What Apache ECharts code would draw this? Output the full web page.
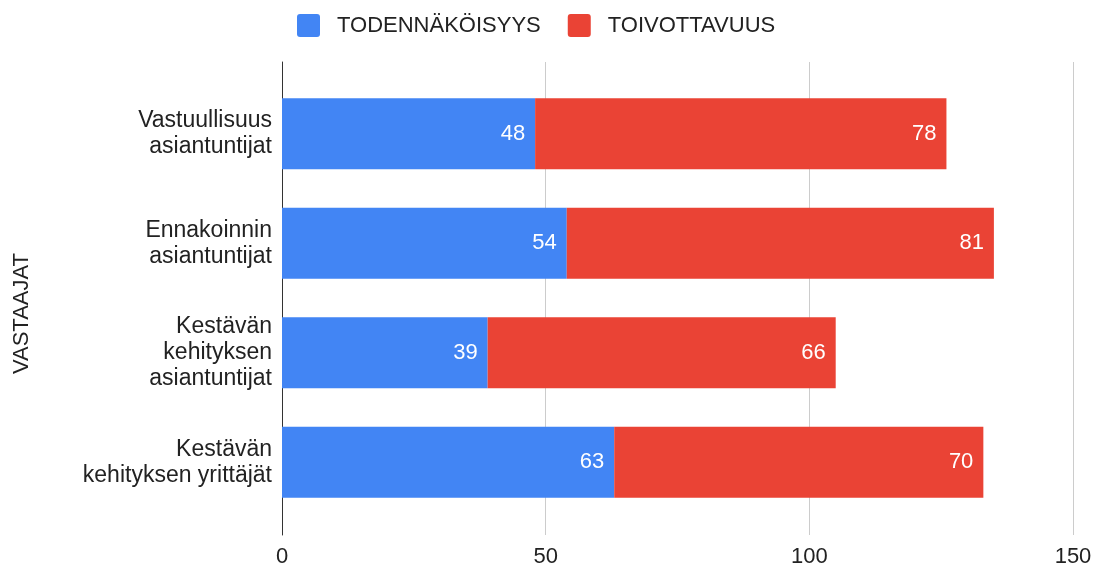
<!DOCTYPE html>
<html><head><meta charset="utf-8">
<script src="https://cdn.jsdelivr.net/npm/echarts@6/dist/echarts.min.js"></script>
<style>html,body{margin:0;padding:0;background:#fff}#c{width:1101px;height:569px}</style>
</head><body><div id="c"></div>
<script>
const categories = ["Vastuullisuus\nasiantuntijat", "Ennakoinnin\nasiantuntijat", "Kestävän\nkehityksen\nasiantuntijat", "Kestävän\nkehityksen yrittäjät"];
const todennakoisyys = [48, 54, 39, 63];
const toivottavuus = [78, 81, 66, 70];
const seriesNames = ["TODENNÄKÖISYYS", "TOIVOTTAVUUS"];
const xTicks = [0, 50, 100, 150];
const axisTitle = "VASTAAJAT";

const chart = echarts.init(document.getElementById('c'));
const font = '"Liberation Sans", Arial, sans-serif';
const txt = '#222222';
const lbl = {show: true, position: 'insideRight', color: '#fff', fontSize: 22, fontFamily: font, distance: 10};
const xMin = xTicks[0], xMax = xTicks[xTicks.length - 1];
chart.setOption({
  animation: false,
  textStyle: {fontFamily: font},
  legend: {
    top: 9, left: 292, itemWidth: 23, itemHeight: 23, itemGap: 27,
    icon: 'path://M3,0 H20 A3,3 0 0 1 23,3 V20 A3,3 0 0 1 20,23 H3 A3,3 0 0 1 0,20 V3 A3,3 0 0 1 3,0 Z',
    textStyle: {fontSize: 22, color: txt, fontFamily: font, padding: [0, 0, 0, 12]},
    data: seriesNames
  },
  graphic: [{
    type: 'text', left: 11, top: 253, rotation: Math.PI / 2,
    style: {text: axisTitle, fontSize: 22, fill: txt, fontFamily: font}
  }],
  grid: [
    {left: 282, right: 28, top: 79, bottom: 52},
    {left: 282, right: 28, top: 62, bottom: 34}
  ],
  xAxis: [
    {type: 'value', gridIndex: 0, min: xMin, max: xMax, interval: 50, show: false},
    {
      type: 'value', gridIndex: 1, min: xMin, max: xMax, interval: 50,
      axisLine: {show: false}, axisTick: {show: false},
      splitLine: {lineStyle: {color: '#cccccc', width: 1}},
      axisLabel: {fontSize: 22, color: txt, margin: 11, fontFamily: font}
    }
  ],
  yAxis: [
    {
      type: 'category', gridIndex: 0, data: categories, inverse: true,
      axisLine: {show: false}, axisTick: {show: false},
      axisLabel: {fontSize: 23, color: txt, lineHeight: 26, margin: 10, align: 'right', fontFamily: font}
    },
    {
      type: 'value', gridIndex: 1, min: 0, max: 1,
      axisLine: {show: true, lineStyle: {color: '#333333', width: 1}},
      axisTick: {show: false}, axisLabel: {show: false}, splitLine: {show: false}
    }
  ],
  series: [
    {name: seriesNames[0], type: 'bar', stack: 's', xAxisIndex: 0, yAxisIndex: 0, data: todennakoisyys, barWidth: 71, itemStyle: {color: '#4285F4'}, label: lbl, z: 3},
    {name: seriesNames[1], type: 'bar', stack: 's', xAxisIndex: 0, yAxisIndex: 0, data: toivottavuus, barWidth: 71, itemStyle: {color: '#EA4335'}, label: lbl, z: 3}
  ]
});
</script></body></html>
